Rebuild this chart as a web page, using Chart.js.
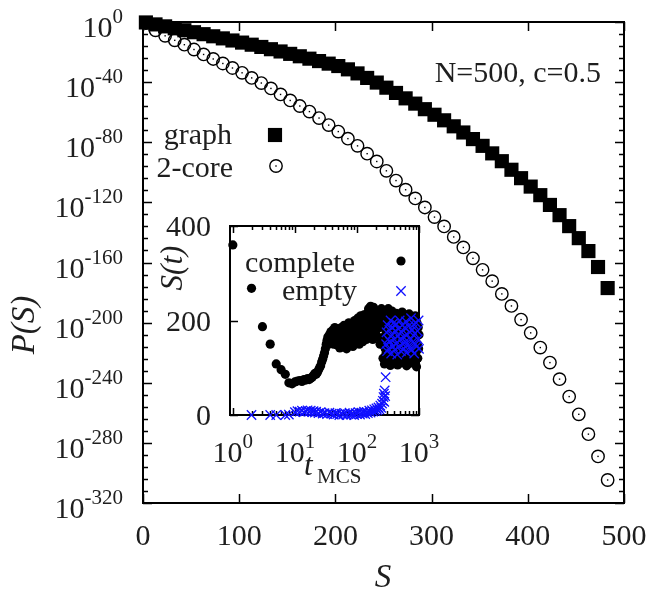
<!DOCTYPE html>
<html>
<head>
<meta charset="utf-8">
<script src="https://cdn.jsdelivr.net/npm/chart.js@4.4.1/dist/chart.umd.min.js"></script>
<style>
  html, body { margin: 0; padding: 0; background: #fff; }
  #wrap { position: relative; width: 652px; height: 597px; }
  #main { position: absolute; left: 0; top: 0; }
  #inset { position: absolute; left: 150px; top: 200px; }
</style>
</head>
<body>
<div id="wrap">
  <canvas id="main" width="652" height="597"></canvas>
  <canvas id="inset" width="290" height="290"></canvas>
</div>
<script>
// Cluster sizes S and log10 P(S) for the whole graph and for the 2-core
const sizes = [3, 13, 23, 33, 43, 53, 63, 73, 83, 93, 103, 113, 123, 133, 143, 153, 163, 173, 183, 193,
  203, 213, 223, 233, 243, 253, 263, 273, 283, 293, 303, 313, 323, 333, 343, 353, 363, 373, 383, 393,
  403, 413, 423, 433, 443, 453, 463, 473, 483];
const graphLogP = [-0.3, -1.6, -2.9, -4.2, -5.5, -6.8, -8.1, -9.5, -10.9, -12.3, -13.7, -15.1, -16.6, -18.1,
  -19.6, -21.2, -22.8, -24.4, -26.0, -27.7, -29.3, -31.5, -34.2, -37.2, -40.3, -43.7, -47.2, -50.8, -54.3,
  -58.0, -61.7, -65.4, -69.4, -73.5, -77.9, -82.4, -87.4, -92.6, -98.3, -103.9, -109.5, -115.2, -121.7,
  -128.5, -135.8, -143.8, -152.4, -163.0, -177.0];
const coreLogP = [-0.8, -5.5, -9.2, -12.2, -15.1, -18.3, -21.6, -24.6, -27.6, -30.6, -33.8, -37.2, -40.6,
  -44.2, -48.2, -52.2, -55.9, -59.6, -63.9, -68.6, -72.9, -77.6, -82.4, -87.6, -92.8, -99.0, -105.5,
  -111.6, -117.4, -123.4, -129.8, -136.0, -143.0, -150.0, -157.2, -164.9, -172.4, -180.9, -188.9, -198.0,
  -206.8, -216.6, -226.6, -237.6, -249.2, -261.0, -274.2, -289.0, -304.7];

// Main axes ticks
const sizeTicks = [0, 100, 200, 300, 400, 500];
const logPTicks = [0, -40, -80, -120, -160, -200, -240, -280, -320];

// Inset: S(t) against Monte Carlo time, starting from complete / empty
const completeT = [1, 2, 3, 4, 5, 6, 7, 8, 9, 10, 11, 12, 13, 14, 15, 16, 17, 18, 19, 20, 21, 22, 23, 24, 25,
  26, 27, 28, 29, 30,
  31, 32, 33, 34, 35, 36, 37, 38, 39, 40, 41, 42, 43, 44, 45, 46, 48, 49, 50, 52, 53, 54, 56, 57, 58, 60,
  62, 64, 66, 68, 70, 72, 74, 76, 78, 80, 82, 84, 86, 88, 90, 92, 94, 96, 98, 100,
  103, 106, 109, 112, 115, 118, 121, 124, 127, 130, 134, 138, 142, 146, 150, 154, 158, 162, 166, 170,
  175, 180, 185, 190, 195, 200, 206, 212, 218, 224, 230, 236, 242, 248,
  252, 256, 259, 263, 267, 270, 274, 278, 282, 286, 290, 294, 298, 302, 307, 311, 316, 320, 325, 330,
  335, 340, 345, 350, 355, 361, 366, 372, 377, 383, 389, 395, 401, 407, 413, 419, 426, 432, 439, 446,
  452, 459, 466, 473, 481, 488, 496, 503, 511, 519, 527, 535, 543, 551, 560, 568, 577, 586, 595, 604,
  613, 623, 632, 642, 652, 662, 672, 682, 693, 703, 714, 725, 736, 748, 759, 771, 783, 795, 807, 820,
  832, 845, 858, 871, 885, 898, 912, 926, 941, 955, 970, 985, 1000];
const completeS = [360, 268, 187, 150, 108, 96, 86, 68, 66, 70, 72, 73, 71, 75, 74, 77, 75, 78, 80, 84, 88, 86,
  90, 95, 100, 104, 112, 118, 125, 132,
  140, 150, 158, 165, 150, 170, 160, 176, 155, 168, 180, 150, 175, 185, 160, 172, 148, 182, 165, 176, 142,
  170, 185, 155, 172, 160,
  190, 150, 175, 140, 185, 165, 195, 150, 178, 190, 158, 182, 145, 195, 170, 200, 155, 185, 198, 165,
  205, 180, 150, 195, 210, 170, 200, 155, 188, 212, 175, 200, 160, 215, 190, 225, 170, 205, 230, 185,
  215, 160, 228, 195, 170, 210, 180, 200, 165, 215, 185, 150, 205, 225,
  200, 150, 222, 120, 185, 165, 210, 108, 195, 140, 218, 130, 175, 205, 115, 190, 155, 225, 125, 180,
  160, 212, 105, 198, 145, 170, 220, 118, 188, 135, 208, 150, 178, 112, 202, 162, 128, 215, 142, 185,
  106, 195, 168, 122, 210, 152, 180, 110, 200, 138, 172, 218, 126, 190, 148, 205, 115, 165, 196, 132,
  212, 158, 104, 185, 142, 200, 120, 175, 214, 135, 160, 195, 110, 182, 150, 206, 125, 170, 198, 140,
  112, 190, 162, 210, 130, 178, 102, 195, 150, 120, 185, 140, 170];
const emptyT = [2, 4, 5, 7, 8, 10, 11, 12, 13, 14, 15, 16, 17, 18, 19, 20, 21, 22, 24, 26, 28, 30, 33, 36, 39,
  42, 45, 48, 52, 56, 60, 64, 68, 72, 76, 80, 85, 90, 95, 100, 106, 112, 118, 124, 130, 136, 143, 150, 158,
  166, 174, 182, 190, 198, 206, 214, 222, 230, 238, 246, 254, 262, 268, 272, 276, 280, 285, 290,
  295, 300, 306, 312, 318, 325, 332, 340, 348, 356, 364, 372, 380, 389, 398, 407, 416, 426, 436, 446, 456,
  467, 478, 489, 500, 512, 524, 536, 549, 562, 575, 589, 603, 617, 632, 647, 662, 678, 694, 710, 727, 744,
  762, 780, 798, 817, 836, 856, 876, 897, 918, 940, 962, 985, 1000];
const emptyS = [0, 0, 0, 0, 1, 6, 8, 7, 9, 6, 8, 10, 7, 9, 6, 8, 5, 7, 4, 6, 3, 4, 2, 5, 3, 1, 4, 2, 0, 3, 1,
  4, 0, 2, 5, 1, 3, 0, 4, 2, 6, 1, 5, 3, 7, 2, 6, 4, 9, 5, 10, 7, 12, 8, 14, 10, 16, 12, 20, 15, 24, 30, 38,
  45, 28, 52, 40, 80,
  150, 175, 135, 190, 160, 140, 180, 155, 200, 130, 170, 185, 145, 195, 160, 138, 178, 150, 192, 128, 168,
  182, 145, 200, 160, 135, 175, 190, 150, 165, 140, 185, 155, 198, 132, 170, 150, 188, 142, 176, 160, 205,
  138, 180, 155, 192, 130, 172, 150, 195, 145, 178, 160, 200, 140];

// Inset axis ticks
const tTicks = [1, 10, 100, 1000];
const tTickExp = ['0', '1', '2', '3'];
const sTicks = [0, 200, 400];

const SERIF = '"Liberation Serif", "DejaVu Serif", serif';
const INK = '#1e1e1e';
const BLUE = '#1010ff';

// "10" with a raised exponent; align is 'right' or 'center' about x
function drawPower(ctx, exp, x, base, big, small, align) {
  ctx.font = big + 'px ' + SERIF;
  const wBase = ctx.measureText('10').width;
  ctx.font = small + 'px ' + SERIF;
  const wExp = ctx.measureText(exp).width;
  const total = wBase + wExp;
  const left = align === 'right' ? x - total : x - total / 2;
  ctx.textAlign = 'left';
  ctx.textBaseline = 'alphabetic';
  ctx.font = big + 'px ' + SERIF;
  ctx.fillText('10', left, base);
  ctx.font = small + 'px ' + SERIF;
  ctx.fillText(exp, left + wBase, base - 14);
}

const mainDecor = {
  id: 'mainDecor',
  beforeDatasetsDraw(chart) {
    const { ctx, chartArea: a, scales: { x, y } } = chart;
    ctx.save();
    ctx.strokeStyle = '#000';
    ctx.lineWidth = 1.5;
    ctx.beginPath();
    // minor ticks every 8 decades, major every 40
    for (let v = -320; v <= 0; v += 8) {
      const py = Math.round(y.getPixelForValue(v)) + 0.5;
      const len = v % 40 === 0 ? 9 : 5;
      ctx.moveTo(a.left, py); ctx.lineTo(a.left + len, py);
      ctx.moveTo(a.right, py); ctx.lineTo(a.right - len, py);
    }
    sizeTicks.forEach(v => {
      const px = Math.round(x.getPixelForValue(v)) + 0.5;
      ctx.moveTo(px, a.bottom); ctx.lineTo(px, a.bottom - 9);
      ctx.moveTo(px, a.top); ctx.lineTo(px, a.top + 9);
    });
    ctx.stroke();
    ctx.lineWidth = 2;
    ctx.strokeRect(a.left, a.top, a.right - a.left, a.bottom - a.top);

    ctx.fillStyle = INK;
    logPTicks.forEach(v => {
      const py = y.getPixelForValue(v);
      drawPower(ctx, String(v), a.left - 20, py + 15, 30, 21, 'right');
    });
    ctx.font = '30px ' + SERIF;
    ctx.textAlign = 'center';
    ctx.textBaseline = 'alphabetic';
    sizeTicks.forEach(v => ctx.fillText(String(v), x.getPixelForValue(v), 545));

    // axis titles
    ctx.font = 'italic 33px ' + SERIF;
    ctx.textBaseline = 'middle';
    ctx.fillText('S', 383, 578);
    ctx.save();
    ctx.translate(25, 325);
    ctx.rotate(-Math.PI / 2);
    ctx.fillText('P(S)', 0, 0);
    ctx.restore();

    // parameters
    ctx.font = '30px ' + SERIF;
    ctx.textAlign = 'right';
    ctx.textBaseline = 'alphabetic';
    ctx.fillText('N=500, c=0.5', 601, 82);

    // key
    ctx.fillText('graph', 232, 144);
    ctx.fillText('2-core', 233, 177);
    ctx.fillStyle = '#000';
    ctx.strokeStyle = '#000';
    Chart.helpers.drawPoint(ctx, { pointStyle: 'rect', radius: 10, rotation: 0, borderWidth: 0 }, 275, 135);
    ctx.lineWidth = 1.4;
    ctx.beginPath();
    ctx.arc(276, 166, 6.2, 0, Math.PI * 2);
    ctx.stroke();
    ctx.fillRect(275.3, 165.3, 1.4, 1.4);
    ctx.restore();
  },
  afterDatasetsDraw(chart) {
    // centre dot of each open circle
    const { ctx } = chart;
    const meta = chart.getDatasetMeta(1);
    ctx.save();
    ctx.fillStyle = '#000';
    meta.data.forEach(pt => ctx.fillRect(pt.x - 0.7, pt.y - 0.7, 1.4, 1.4));
    ctx.restore();
  }
};

new Chart(document.getElementById('main'), {
  type: 'scatter',
  data: {
    datasets: [{
      label: 'graph',
      data: sizes.map((s, i) => ({ x: s, y: graphLogP[i] })),
      pointStyle: 'rect',
      pointRadius: 10,
      pointBorderWidth: 0,
      backgroundColor: '#000',
      clip: false,
      order: 1
    }, {
      label: '2-core',
      data: sizes.map((s, i) => ({ x: s, y: coreLogP[i] })),
      pointStyle: 'circle',
      pointRadius: 6.2,
      pointBorderWidth: 1.4,
      borderColor: '#000',
      backgroundColor: 'rgba(0,0,0,0)',
      clip: false,
      order: 0
    }]
  },
  options: {
    responsive: false,
    animation: false,
    events: [],
    layout: { padding: { left: 143, top: 22, right: 28, bottom: 94 } },
    plugins: { legend: { display: false }, tooltip: { enabled: false } },
    scales: {
      x: { type: 'linear', min: 0, max: 500, display: false },
      y: { type: 'linear', min: -320, max: 0, display: false }
    }
  },
  plugins: [mainDecor]
});

const insetDecor = {
  id: 'insetDecor',
  beforeDatasetsDraw(chart) {
    const { ctx, chartArea: a, scales: { x, y } } = chart;
    ctx.save();
    ctx.strokeStyle = '#000';
    ctx.lineWidth = 1.5;
    ctx.beginPath();
    // log ticks: majors at decades, minors at 2..9
    for (let d = 1; d <= 100; d *= 10) {
      for (let m = 1; m <= 10; m++) {
        const v = d * m;
        const px = Math.round(x.getPixelForValue(v)) + 0.5;
        const len = (m === 1 || m === 10) ? 7 : 4;
        ctx.moveTo(px, a.bottom); ctx.lineTo(px, a.bottom - len);
        ctx.moveTo(px, a.top); ctx.lineTo(px, a.top + len);
      }
    }
    sTicks.forEach(v => {
      const py = Math.round(y.getPixelForValue(v)) + 0.5;
      ctx.moveTo(a.left, py); ctx.lineTo(a.left + 8, py);
      ctx.moveTo(a.right, py); ctx.lineTo(a.right - 8, py);
    });
    ctx.stroke();
    ctx.lineWidth = 2;
    ctx.strokeRect(a.left, a.top, a.right - a.left, a.bottom - a.top);

    ctx.fillStyle = INK;
    ctx.font = '30px ' + SERIF;
    ctx.textAlign = 'right';
    ctx.textBaseline = 'alphabetic';
    sTicks.forEach(v => ctx.fillText(String(v), a.left - 19, y.getPixelForValue(v) + 10));
    tTicks.forEach((v, i) => drawPower(ctx, tTickExp[i], x.getPixelForValue(v), 262, 30, 21, 'center'));

    // axis titles
    ctx.font = 'italic 31px ' + SERIF;
    ctx.textAlign = 'left';
    ctx.fillText('t', 154, 275);
    ctx.font = '21px ' + SERIF;
    ctx.fillText('MCS', 167, 283);
    ctx.font = 'italic 31px ' + SERIF;
    ctx.textAlign = 'center';
    ctx.textBaseline = 'middle';
    ctx.save();
    ctx.translate(24, 68);
    ctx.rotate(-Math.PI / 2);
    ctx.fillText('S(t)', 0, 0);
    ctx.restore();

    // key
    ctx.font = '30px ' + SERIF;
    ctx.textAlign = 'right';
    ctx.textBaseline = 'alphabetic';
    ctx.fillText('complete', 205, 72);
    ctx.fillText('empty', 207, 100);
    ctx.fillStyle = '#000';
    Chart.helpers.drawPoint(ctx, { pointStyle: 'circle', radius: 4.6, rotation: 0, borderWidth: 0 }, 251, 61);
    ctx.strokeStyle = BLUE;
    ctx.lineWidth = 1.3;
    Chart.helpers.drawPoint(ctx, { pointStyle: 'crossRot', radius: 6.6, rotation: 0, borderWidth: 1.3 }, 251, 91);
    ctx.restore();
  }
};

new Chart(document.getElementById('inset'), {
  type: 'scatter',
  data: {
    datasets: [{
      label: 'complete',
      data: completeT.map((t, i) => ({ x: t, y: completeS[i] })),
      pointStyle: 'circle',
      pointRadius: 4.6,
      pointBorderWidth: 0,
      backgroundColor: '#000',
      clip: false,
      order: 1
    }, {
      label: 'empty',
      data: emptyT.map((t, i) => ({ x: t, y: emptyS[i] })),
      pointStyle: 'crossRot',
      pointRadius: 6.6,
      pointBorderWidth: 1.3,
      borderColor: BLUE,
      backgroundColor: BLUE,
      clip: false,
      order: 0
    }]
  },
  options: {
    responsive: false,
    animation: false,
    events: [],
    layout: { padding: { left: 80, top: 26, right: 21, bottom: 75 } },
    plugins: { legend: { display: false }, tooltip: { enabled: false } },
    scales: {
      x: { type: 'logarithmic', min: 0.9, max: 1000, display: false },
      y: { type: 'linear', min: 0, max: 400, display: false }
    }
  },
  plugins: [insetDecor]
});
</script>
</body>
</html>
